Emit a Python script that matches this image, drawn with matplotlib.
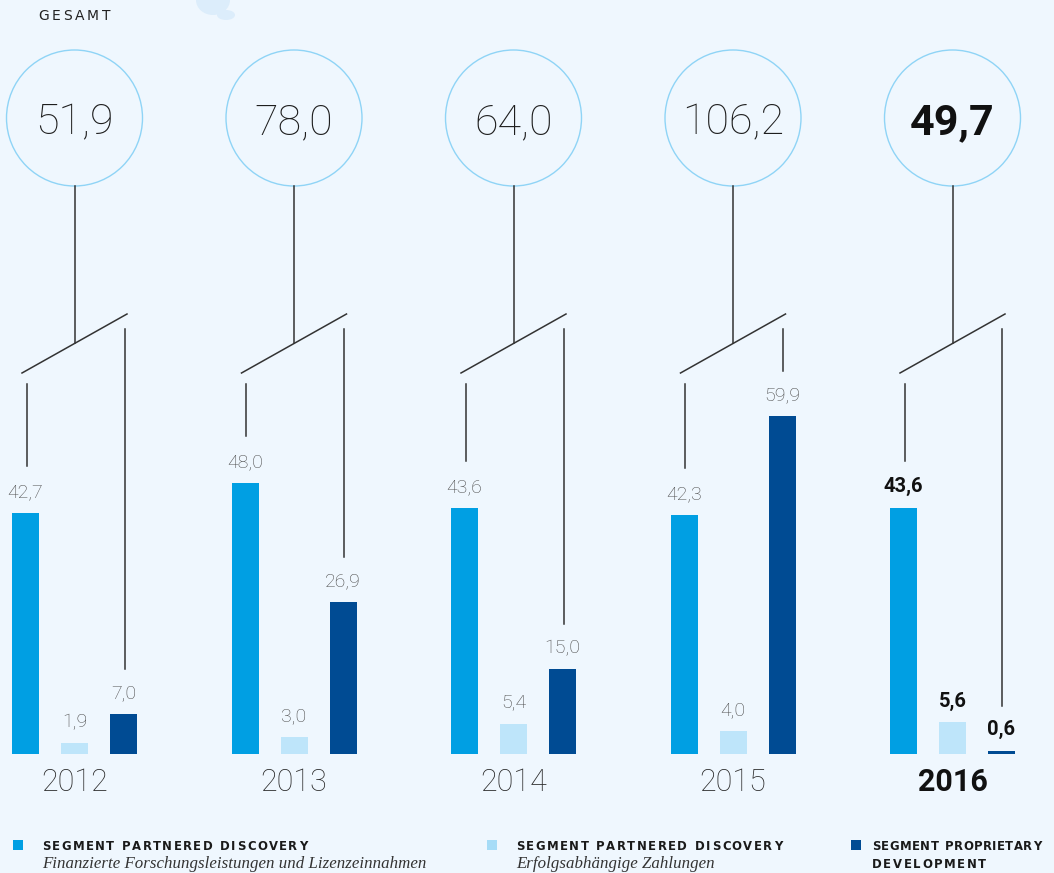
import matplotlib
matplotlib.use("Agg")
import matplotlib.pyplot as plt
from matplotlib.patches import Ellipse, Rectangle

# ---------------- data ----------------
years = ["2012", "2013", "2014", "2015", "2016"]
totals = ["51,9", "78,0", "64,0", "106,2", "49,7"]
pd_financed = [42.7, 48.0, 43.6, 42.3, 43.6]      # Partnered Discovery: Forschungsleistungen/Lizenzen
pd_milestones = [1.9, 3.0, 5.4, 4.0, 5.6]         # Partnered Discovery: erfolgsabhängige Zahlungen
proprietary = [7.0, 26.9, 15.0, 59.9, 0.6]        # Proprietary Development
series = [pd_financed, pd_milestones, proprietary]
legend_titles = ["SEGMENT PARTNERED DISCOVERY", "SEGMENT PARTNERED DISCOVERY", "SEGMENT PROPRIETARY"]
legend_subs = ["Finanzierte Forschungsleistungen und Lizenzeinnahmen", "Erfolgsabhängige Zahlungen", "DEVELOPMENT"]

# ---------------- style ----------------
BG = "#eff7fe"
COLORS = ["#009fe3", "#bee5fa", "#004b93"]
CIRCLE = "#8fd4f6"
LINE = "#333333"
LABEL = "#4a4a4a"
NUMFONT = ["Roboto", "DejaVu Sans"]

W, H = 1054, 873
PX_PER_UNIT = 5.644          # vertical pixels per value unit
BASE_PX = 754                # baseline pixel row
GROUP_PX = 219.5             # pixels per group
C0_PX = 74.5                 # x pixel of first group centre

fig = plt.figure(figsize=(W / 100, H / 100), dpi=100, facecolor=BG)
ax = fig.add_axes([0, 0, 1, 1])
ax.set_facecolor(BG)
ax.set_xlim(-C0_PX / GROUP_PX, (W - C0_PX) / GROUP_PX)
ax.set_ylim(-(H - BASE_PX) / PX_PER_UNIT, BASE_PX / PX_PER_UNIT)
ax.axis("off")

def ux(px):  # horizontal pixel distance -> data units
    return px / GROUP_PX

def uy(px):  # vertical pixel distance -> data units
    return px / PX_PER_UNIT

offsets = [-ux(49), 0.0, ux(49)]
bw = ux(27)
n = len(years)
last = n - 1

# bars
for s, (vals, col) in enumerate(zip(series, COLORS)):
    xs = [i + offsets[s] for i in range(n)]
    ax.bar(xs, vals, width=bw, color=col, align="center", zorder=3)
    for i, v in enumerate(vals):
        bold = i == last
        ax.text(xs[i], v + uy(16), f"{v:.1f}".replace(".", ","),
                ha="center", va="baseline", fontsize=14 if not bold else 14.5,
                family=NUMFONT, fontweight="bold" if bold else "light",
                color="#111111" if bold else LABEL, zorder=4)

# year labels
for i, y in enumerate(years):
    bold = i == last
    ax.text(i, -uy(37), y, ha="center", va="baseline", fontsize=22,
            family=NUMFONT, fontweight="bold" if bold else "light",
            color="#111111" if bold else "#2a2a2a")

# circles with totals and connectors
circ_c = uy(BASE_PX - 118)
r_px = 68
for i, t in enumerate(totals):
    bold = i == last
    ax.add_patch(Ellipse((i, circ_c), 2 * ux(r_px), 2 * uy(r_px), fill=False,
                         edgecolor=CIRCLE, lw=1.0, zorder=2))
    ax.text(i, circ_c - uy(16), t, ha="center", va="baseline", fontsize=31,
            family=NUMFONT, fontweight="bold" if bold else "light",
            color="#111111" if bold else "#1e1e1e")
    # stem from circle to diagonal
    ax.plot([i, i], [circ_c - uy(r_px), uy(BASE_PX - 343)], color=LINE, lw=1.1)
    # diagonal
    ax.plot([i - ux(52.5), i + ux(52.5)], [uy(BASE_PX - 373), uy(BASE_PX - 314)],
            color=LINE, lw=1.1)
    # left drop to first bar label
    ax.plot([i + offsets[0] + ux(1), i + offsets[0] + ux(1)],
            [uy(BASE_PX - 384), pd_financed[i] + uy(47)], color=LINE, lw=1.1)
    # right drop to third bar label
    ax.plot([i + offsets[2] + ux(1), i + offsets[2] + ux(1)],
            [uy(BASE_PX - 329), proprietary[i] + uy(45)], color=LINE, lw=1.1)

# ---------------- pixel overlay for titles / legend ----------------
ov = fig.add_axes([0, 0, 1, 1])
ov.set_xlim(0, W)
ov.set_ylim(H, 0)
ov.axis("off")
ov.patch.set_alpha(0)

# faint decorative shape at top
ov.add_patch(Ellipse((213, 0), 34, 30, color="#dcedfb", lw=0, zorder=0))
ov.add_patch(Ellipse((226, 15), 18, 10, color="#dcedfb", lw=0, zorder=0))

renderer = fig.canvas.get_renderer()

def spaced(x, y, s, width, **kw):
    """Draw letter-spaced text so that it spans about `width` pixels."""
    tt = ov.text(0, 0, "n", **kw)
    space_w = tt.get_window_extent(renderer).width * 0.6
    tt.remove()
    widths = []
    for ch in s:
        if ch == " ":
            widths.append(space_w)
        else:
            tt = ov.text(0, 0, ch, **kw)
            widths.append(tt.get_window_extent(renderer).width)
            tt.remove()
    spacing = (width - sum(widths)) / max(len(s) - 1, 1)
    for ch, w in zip(s, widths):
        if ch != " ":
            ov.text(x, y, ch, ha="left", va="baseline", **kw)
        x += w + spacing

spaced(38, 20, "GESAMT", 72, fontsize=10, family="DejaVu Sans", color="#222222")

leg_x = [13, 487, 851]
txt_x = [42, 516, 872]
title_w = [265, 266, 169]
for k in range(3):
    ov.add_patch(Rectangle((leg_x[k], 840), 10, 10, color=COLORS[k] if k != 1 else "#a6dcf7", lw=0))
    spaced(txt_x[k], 849.5, legend_titles[k], title_w[k], fontsize=8.4,
           family="DejaVu Sans", fontweight="bold", color="#1a1a1a")
    if k < 2:
        ov.text(txt_x[k], 868, legend_subs[k], ha="left", va="baseline", fontsize=12.2,
                family="Liberation Serif", style="italic", color="#333333")
    else:
        spaced(txt_x[k], 868.5, legend_subs[k], 114, fontsize=8.4,
               family="DejaVu Sans", fontweight="bold", color="#1a1a1a")

fig.savefig("out.png", dpi=100, facecolor=BG)
